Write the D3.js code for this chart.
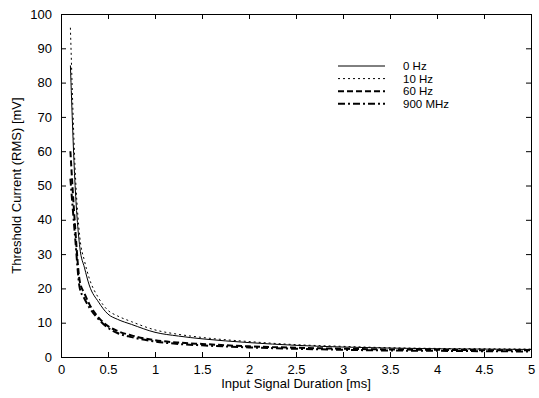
<!DOCTYPE html>
<html>
<head>
<meta charset="utf-8">
<script src="https://cdn.jsdelivr.net/npm/d3@7"></script>
<style>
  body { margin: 0; background: #fff; }
  svg { display: block; font-family: "Liberation Sans", Arial, sans-serif; }
  .axis path, .axis line { stroke: #000; stroke-width: 1; }
  .axis text { font-size: 13px; fill: #000; }
  .line { fill: none; stroke: #000; }
</style>
</head>
<body>
<script>
// input signal duration [ms]
const durations = [0.1, 0.15, 0.2, 0.25, 0.3, 0.4, 0.5, 0.6, 0.75, 1, 1.25, 1.5, 2, 2.5, 3, 3.5, 4, 4.5, 5];

// threshold current (RMS) [mV]
const hz0 = [85, 50, 32, 26, 21, 16, 12.5, 11, 9.5, 7.2, 6.1, 5.3, 4.2, 3.4, 2.9, 2.6, 2.4, 2.3, 2.2];
const hz10 = [96, 55, 35, 28, 23, 17.2, 13.6, 12, 10.3, 7.9, 6.6, 5.7, 4.5, 3.6, 3.1, 2.7, 2.5, 2.4, 2.3];
const hz60 = [60, 38, 22, 18.5, 15.5, 11.5, 9, 7.6, 6.3, 4.9, 4.2, 3.8, 3.1, 2.7, 2.4, 2.2, 2.1, 2.0, 2.0];
const mhz900 = [52, 35, 20, 17, 14.5, 11, 8.5, 7, 5.8, 4.5, 3.8, 3.4, 2.8, 2.4, 2.1, 1.9, 1.8, 1.7, 1.6];

const seriesNames = ["0 Hz", "10 Hz", "60 Hz", "900 MHz"];
const xTicks = [0, 0.5, 1, 1.5, 2, 2.5, 3, 3.5, 4, 4.5, 5];
const yTicks = [0, 10, 20, 30, 40, 50, 60, 70, 80, 90, 100];

const styles = [
    { width: 1, dash: null },
    { width: 1, dash: "2,3" },
    { width: 2, dash: "6,3" },
    { width: 2, dash: "7,3,2,3" }
];

const W = 539, H = 398;
const margin = { top: 14, right: 8, bottom: 41, left: 61 },
    width = W - margin.left - margin.right,
    height = H - margin.top - margin.bottom;

const x = d3.scaleLinear().domain([0, 5]).range([0, width]);
const y = d3.scaleLinear().domain([0, 100]).range([height, 0]);

const svg = d3.select("body").append("svg")
    .attr("width", W)
    .attr("height", H);

const g = svg.append("g")
    .attr("transform", "translate(" + margin.left + "," + margin.top + ")");

const fmt = d => String(d);

// box with inward ticks on all four sides
g.append("g").attr("class", "axis")
    .attr("transform", "translate(0," + height + ")")
    .call(d3.axisBottom(x).tickValues(xTicks).tickSize(-5).tickPadding(8).tickFormat(fmt));
g.append("g").attr("class", "axis")
    .call(d3.axisTop(x).tickValues(xTicks).tickSize(-5).tickFormat(""));
g.append("g").attr("class", "axis")
    .call(d3.axisLeft(y).tickValues(yTicks).tickSize(-5).tickPadding(9));
g.append("g").attr("class", "axis")
    .attr("transform", "translate(" + width + ",0)")
    .call(d3.axisRight(y).tickValues(yTicks).tickSize(-5).tickFormat(""));

g.selectAll(".axis .domain").attr("stroke-width", 1.2);

const allSeries = [hz0, hz10, hz60, mhz900];

const line = d3.line()
    .curve(d3.curveMonotoneX)
    .x(d => x(d[0]))
    .y(d => y(d[1]));

allSeries.forEach(function (vals, i) {
    g.append("path")
        .datum(durations.map((t, j) => [t, vals[j]]))
        .attr("class", "line")
        .attr("stroke-width", styles[i].width)
        .attr("stroke-dasharray", styles[i].dash)
        .attr("d", line);
});

// legend
const legend = svg.append("g").attr("transform", "translate(338,66)");
seriesNames.forEach(function (name, i) {
    const row = legend.append("g").attr("transform", "translate(0," + (i * 12.6) + ")");
    row.append("line")
        .attr("class", "line")
        .attr("x1", 0).attr("x2", 47)
        .attr("y1", 0).attr("y2", 0)
        .attr("stroke-width", styles[i].width)
        .attr("stroke-dasharray", styles[i].dash);
    row.append("text")
        .attr("x", 65).attr("y", 4)
        .attr("font-size", 11.5)
        .text(name);
});

// axis titles
svg.append("text")
    .attr("x", margin.left + width / 2)
    .attr("y", 388)
    .attr("text-anchor", "middle")
    .attr("font-size", 13)
    .text("Input Signal Duration [ms]");

svg.append("text")
    .attr("transform", "translate(21," + (margin.top + height / 2) + ") rotate(-90)")
    .attr("text-anchor", "middle")
    .attr("font-size", 13)
    .text("Threshold Current (RMS) [mV]");
</script>
</body>
</html>
